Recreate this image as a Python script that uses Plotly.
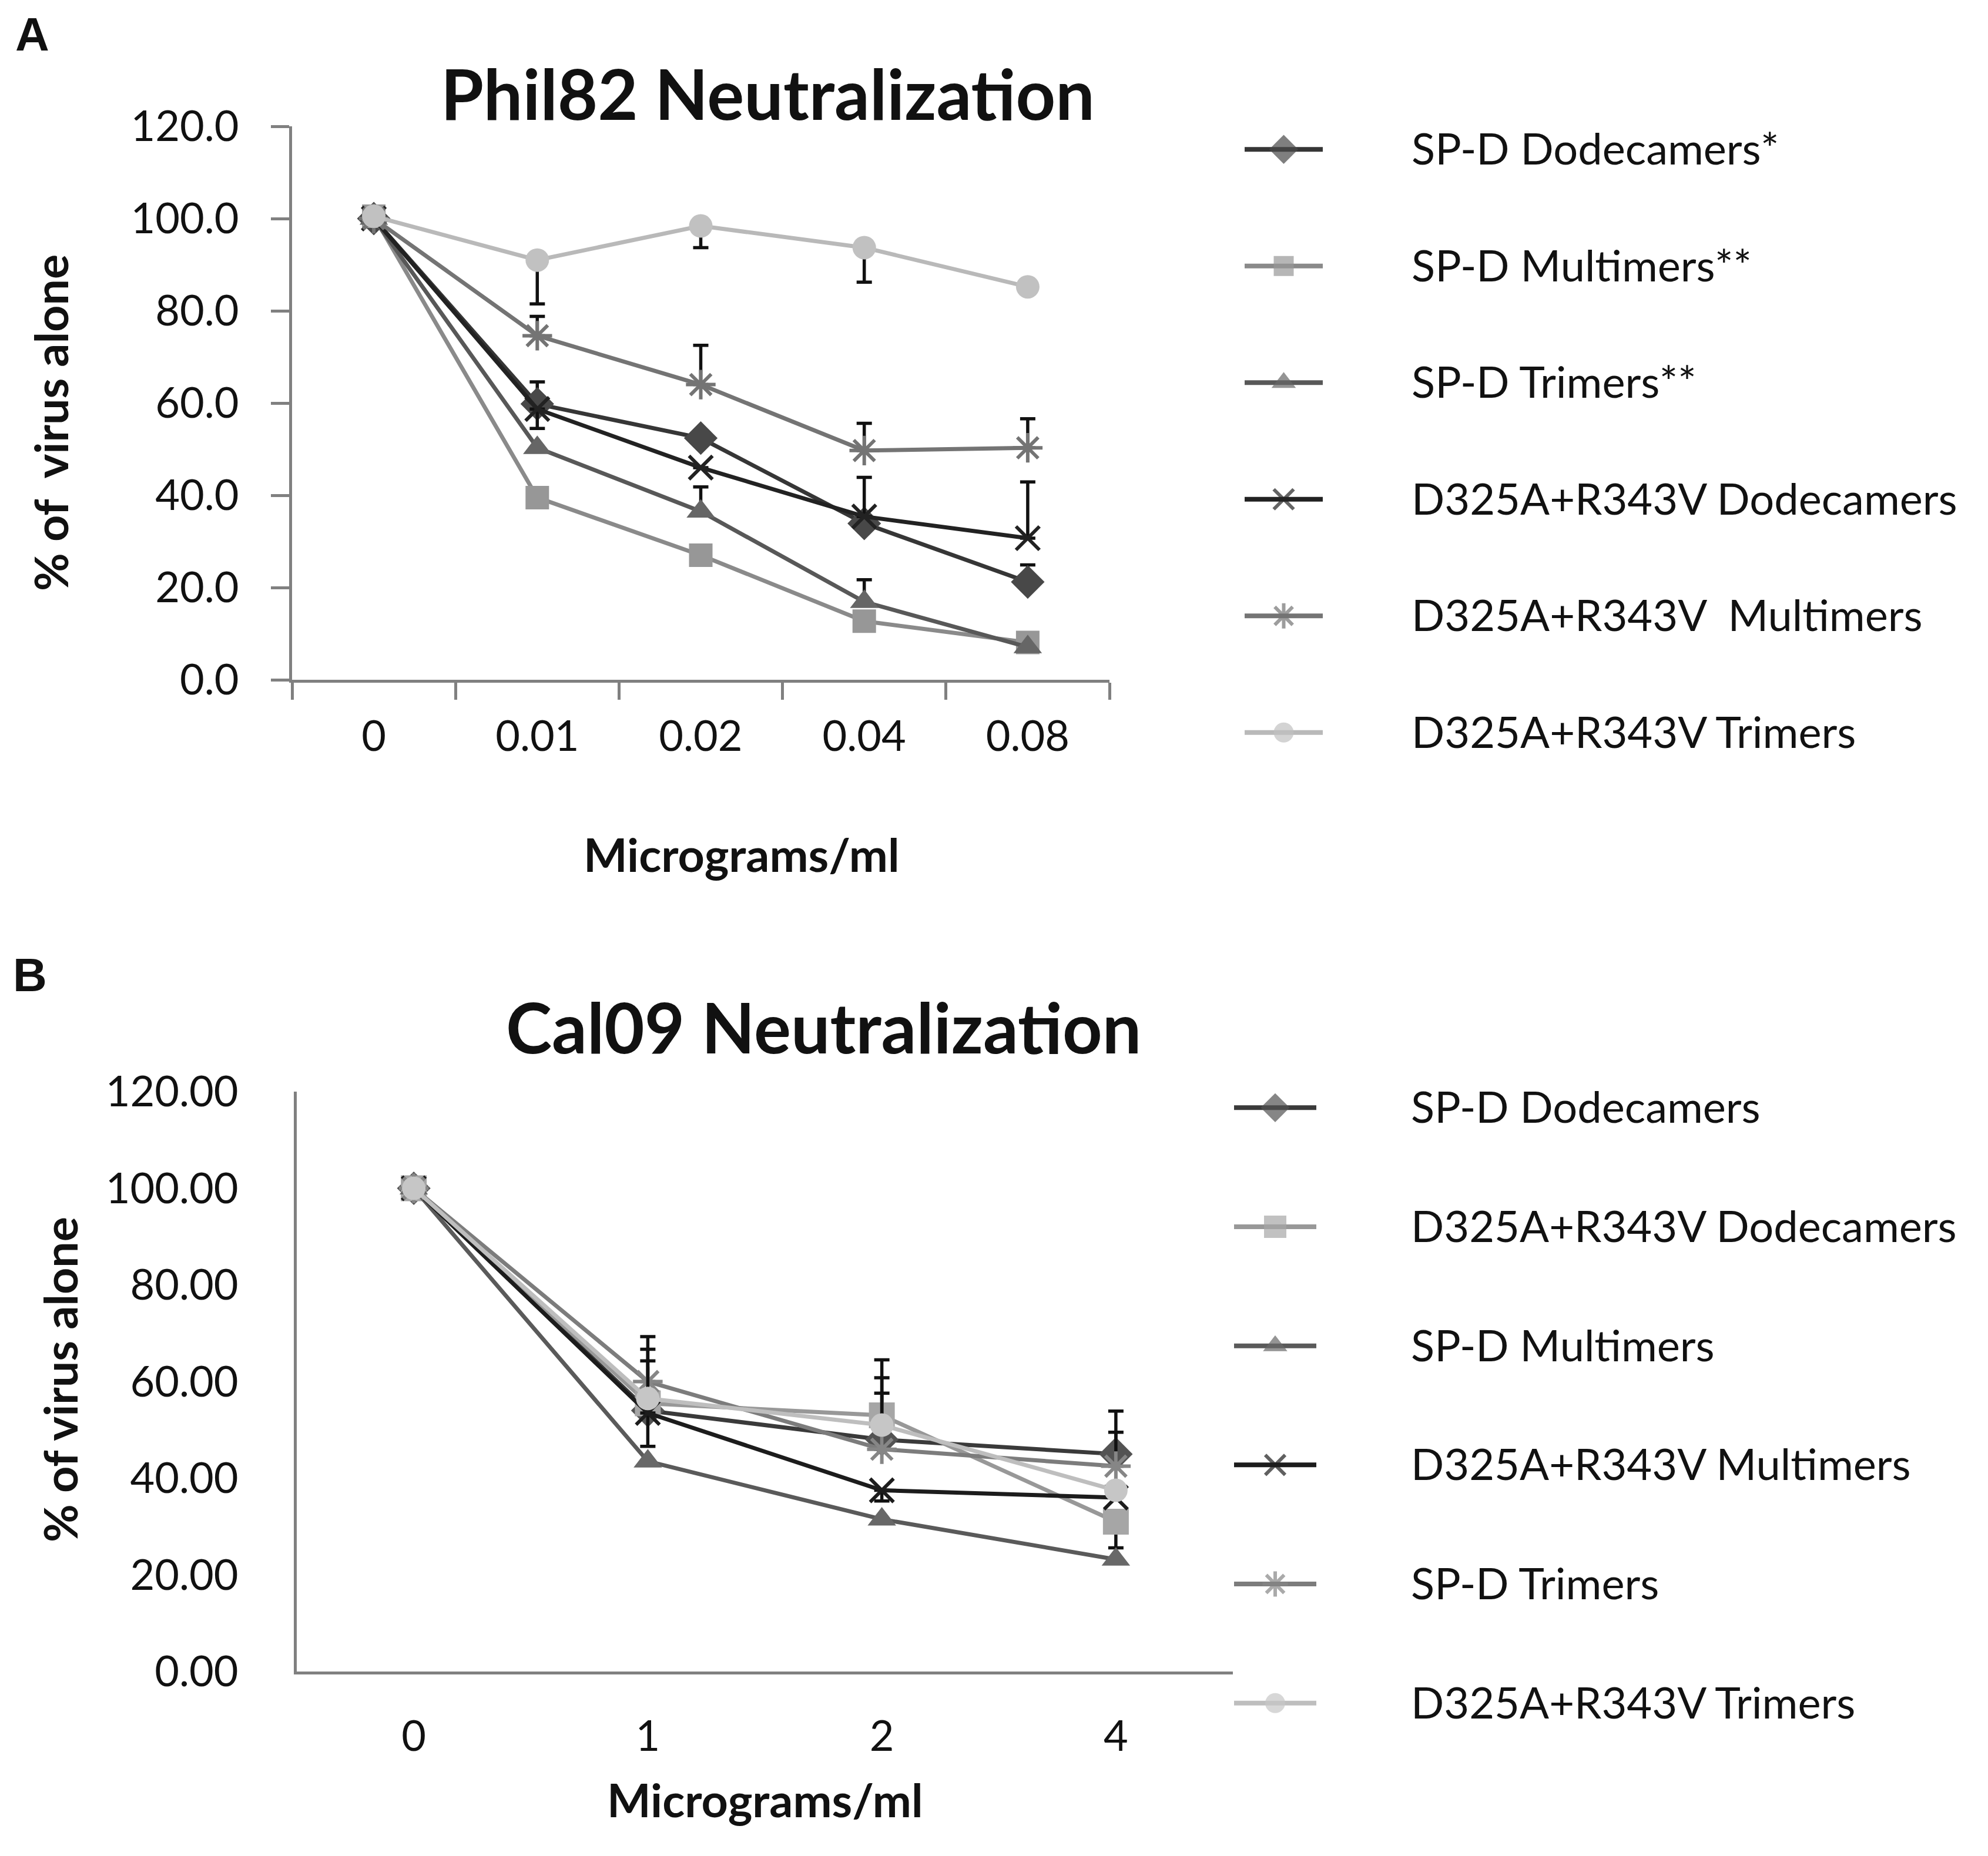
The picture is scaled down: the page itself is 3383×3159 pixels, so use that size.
import plotly.graph_objects as go

# ---- data ----
A_DOSES = ["0", "0.01", "0.02", "0.04", "0.08"]
A_NAMES = ["SP-D Dodecamers*", "SP-D Multimers**", "SP-D Trimers**",
           "D325A+R343V Dodecamers", "D325A+R343V  Multimers", "D325A+R343V Trimers"]
A_SPD_DODEC = [100.0, 59.8, 52.4, 33.9, 21.2]
A_SPD_MULTI = [100.5, 39.5, 27.0, 12.7, 8.1]
A_SPD_TRI = [100.0, 50.3, 36.5, 16.9, 7.1]
A_MUT_DODEC = [100.0, 58.7, 46.0, 35.4, 30.7]
A_MUT_MULTI = [100.0, 74.6, 64.0, 49.7, 50.3]
A_MUT_TRI = [100.5, 91.0, 98.4, 93.7, 85.2]
# error bars (plus / minus)
A_ERR_PLUS = [[0, 4.8, 0, 0, 3.7], [0, 0, 0, 0, 0], [0, 0, 5.3, 4.8, 0],
              [0, 0, 0, 8.5, 12.2], [0, 4.2, 8.5, 5.9, 6.3], [0, 0, 0, 0, 0]]
A_ERR_MINUS = [[0, 0, 0, 0, 0], [0, 0, 0, 0, 0], [0, 0, 0, 0, 0],
               [0, 4.2, 0, 0, 0], [0, 0, 0, 0, 0], [0, 9.5, 4.7, 7.5, 0]]

B_DOSES = ["0", "1", "2", "4"]
B_NAMES = ["SP-D Dodecamers", "D325A+R343V Dodecamers", "SP-D Multimers",
           "D325A+R343V Multimers", "SP-D Trimers", "D325A+R343V Trimers"]
B_SPD_DODEC = [100.0, 54.0, 48.0, 45.0]
B_MUT_DODEC = [100.0, 55.5, 53.0, 31.0]
B_SPD_MULTI = [100.0, 43.5, 31.5, 23.2]
B_MUT_MULTI = [100.0, 53.5, 37.5, 36.0]
B_SPD_TRI = [100.0, 60.0, 46.0, 42.5]
B_MUT_TRI = [100.0, 56.5, 51.0, 37.5]
B_ERR_PLUS = [[0, 15.3, 16.5, 8.9], [0, 0, 0, 0], [0, 0, 0, 0],
              [0, 0, 0, 0], [0, 6.7, 14.8, 7.0], [0, 7.8, 6.6, 0]]
B_ERR_MINUS = [[0, 0, 0, 0], [0, 0, 0, 5.4], [0, 0, 0, 0],
               [0, 6.9, 2.2, 0], [0, 0, 0, 0], [0, 0, 0, 0]]

A_VALUES = [A_SPD_DODEC, A_SPD_MULTI, A_SPD_TRI, A_MUT_DODEC, A_MUT_MULTI, A_MUT_TRI]
B_VALUES = [B_SPD_DODEC, B_MUT_DODEC, B_SPD_MULTI, B_MUT_MULTI, B_SPD_TRI, B_MUT_TRI]

# ---- styles: symbol, line colour, marker colour, marker size ----
A_STYLE = [("diamond", "#363636", "#484848", 44),
           ("square", "#8a8a8a", "#979797", 40),
           ("triangle-up", "#585858", "#666666", 42),
           ("x-thin-open", "#222222", "#222222", 40),
           ("asterisk-open", "#747474", "#747474", 42),
           ("circle", "#b9b9b9", "#c1c1c1", 40)]
B_STYLE = [("diamond", "#3a3a3a", "#535353", 44),
           ("square", "#989898", "#a6a6a6", 44),
           ("triangle-up", "#5a5a5a", "#686868", 42),
           ("x-thin-open", "#1c1c1c", "#1c1c1c", 40),
           ("asterisk-open", "#7c7c7c", "#868686", 42),
           ("circle", "#bebebe", "#c6c6c6", 40)]

FONT = "Lato"
W, H = 3383, 3159
SWATCH = [0, 1, 2]

fig = go.Figure()


def add_panel(doses, values, names, styles, plus, minus, xa, ya):
    for vals, name, st, ep, em in zip(values, names, styles, plus, minus):
        sym, lc, mc, ms = st
        fig.add_trace(go.Scatter(
            x=doses, y=vals, name=name, mode="lines+markers",
            xaxis=xa, yaxis=ya, showlegend=False,
            line=dict(color=lc, width=7),
            marker=dict(symbol=sym, size=ms, color=mc,
                        line=dict(color=mc, width=6 if "open" in sym else 0)),
            error_y=dict(type="data", symmetric=False, array=ep, arrayminus=em,
                         color="#111111", thickness=5.5, width=13),
        ))


def add_legend(names, styles, xa, ya):
    for name, st in zip(names, styles):
        sym, lc, mc, ms = st
        fig.add_trace(go.Scatter(
            x=SWATCH, y=[name] * len(SWATCH), mode="lines+markers",
            xaxis=xa, yaxis=ya, showlegend=False, hoverinfo="skip",
            line=dict(color=lc, width=8),
            marker=dict(symbol=sym, size=[0, ms - 6, 0], color=mc,
                        line=dict(color=mc, width=6 if "open" in sym else 0)),
        ))


add_panel(A_DOSES, A_VALUES, A_NAMES, A_STYLE, A_ERR_PLUS, A_ERR_MINUS, "x", "y")
add_panel(B_DOSES, B_VALUES, B_NAMES, B_STYLE, B_ERR_PLUS, B_ERR_MINUS, "x2", "y2")
add_legend(A_NAMES, A_STYLE, "x3", "y3")
add_legend(B_NAMES, B_STYLE, "x4", "y4")

tick_font = dict(family=FONT, size=72, color="#111111")
axis_line = dict(showline=True, linecolor="#808080", linewidth=5,
                 showgrid=False, zeroline=False, automargin=False)
legend_axis = dict(type="category", side="right", showline=False, showgrid=False,
                   zeroline=False, ticks="", automargin=False,
                   tickfont=dict(family=FONT, size=74, color="#111111"))

fig.update_layout(
    template="none",
    width=W, height=H, autosize=False,
    margin=dict(l=0, r=0, t=0, b=0, pad=0),
    paper_bgcolor="white", plot_bgcolor="white",
    font=dict(family=FONT, color="#111111"),
    showlegend=False,
    xaxis=dict(domain=[489 / W, 1880 / W], type="category", anchor="y",
               range=[-0.5, len(A_DOSES) - 0.5], tickfont=tick_font,
               ticks="outside", tickson="boundaries", ticklen=29, tickwidth=5,
               tickcolor="#808080", ticklabelstandoff=30, **axis_line),
    yaxis=dict(domain=[1 - 1149 / H, 1 - 207 / H], anchor="x", range=[0, 120],
               dtick=20, tickformat=".1f", tickfont=tick_font,
               ticks="outside", ticklen=31, tickwidth=5, tickcolor="#808080",
               ticklabelstandoff=40, **axis_line),
    xaxis2=dict(domain=[497 / W, 2090 / W], type="category", anchor="y2",
                range=[-0.5, len(B_DOSES) - 0.5], tickfont=tick_font,
                ticks="", ticklabelstandoff=44, **axis_line),
    yaxis2=dict(domain=[1 - 2837 / H, 1 - 1850 / H], anchor="x2", range=[0, 120],
                dtick=20, tickformat=".2f", tickfont=tick_font, ticks="",
                ticklabelstandoff=80, **axis_line),
    xaxis3=dict(domain=[2110 / W, 2243 / W], anchor="y3", range=[0, 2],
                visible=False, automargin=False),
    yaxis3=dict(domain=[1 - 1338 / H, 1 - 147 / H], anchor="x3",
                range=[len(A_NAMES) - 0.5, -0.5], ticklabelstandoff=150,
                **legend_axis),
    xaxis4=dict(domain=[2092 / W, 2232 / W], anchor="y4", range=[0, 2],
                visible=False, automargin=False),
    yaxis4=dict(domain=[1 - 2992 / H, 1 - 1776 / H], anchor="x4",
                range=[len(B_NAMES) - 0.5, -0.5], ticklabelstandoff=160,
                **legend_axis),
)

# text: label, x px, y px, anchor, angle, size, family
notes = [
    ("<b>A</b>", 47, 4, "top", 0, 80, "Liberation Sans"),
    ("<b>B</b>", 43, 1652, "middle", 0, 80, "Liberation Sans"),
    ("<b>Phil82 Neutralization</b>", 1298, 151, "middle", 0, 118, FONT),
    ("<b>Cal09 Neutralization</b>", 1393, 1739, "middle", 0, 118, FONT),
    ("<b>Micrograms/ml</b>", 1254, 1445, "middle", 0, 79, FONT),
    ("<b>Micrograms/ml</b>", 1294, 3054, "middle", 0, 79, FONT),
    ("<b>% of  virus alone</b>", 78, 712, "middle", -90, 79, FONT),
    ("<b>% of virus alone</b>", 93, 2340, "middle", -90, 79, FONT),
]
for text, px, py, yanc, ang, size, fam in notes:
    fig.add_annotation(text=text, xref="paper", yref="paper",
                       x=px / W, y=1 - py / H, xanchor="center", yanchor=yanc,
                       textangle=ang, showarrow=False,
                       font=dict(family=fam, size=size, color="#111111"))

fig.write_html("out.html")
